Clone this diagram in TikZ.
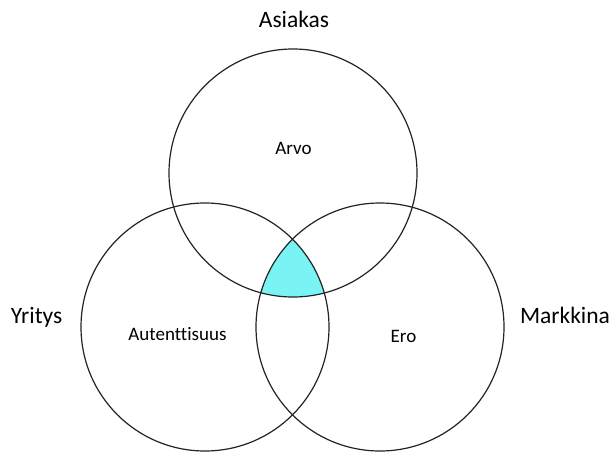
\documentclass[tikz,border=0pt]{standalone}
\usepackage{fontspec}
\setmainfont[Ligatures=NoCommon]{Carlito}
\definecolor{venncyan}{RGB}{122,243,245}
\definecolor{vennline}{RGB}{35,35,35}
\begin{document}
\begin{tikzpicture}[x=1pt,y=-1pt,
  ring/.style={circle,draw=vennline,line width=1.2pt,minimum size=248pt,inner sep=0pt},
  outerlabel/.style={font=\fontsize{23.5}{28}\selectfont,anchor=base,inner sep=0pt},
  innerlabel/.style={font=\fontsize{19}{23}\selectfont,anchor=base,inner sep=0pt}]
\useasboundingbox (0,0) rectangle (610,452);
\begin{scope}
  \clip (293,173) circle[radius=124];
  \clip (205,327) circle[radius=124];
  \fill[venncyan] (380,327) circle[radius=124];
\end{scope}
\node[ring] (top) at (293,173) {};
\node[ring] (left) at (205,327) {};
\node[ring] (right) at (380,327) {};
\node[outerlabel] (asiakas) at (294,28) {Asiakas};
\node[outerlabel] (yritys) at (36.5,323) {Yritys};
\node[outerlabel] (markkina) at (565,323) {Markkina};
\node[innerlabel] (arvo) at (293.5,154) {Arvo};
\node[innerlabel] (autenttisuus) at (177.5,340) {Autenttisuus};
\node[innerlabel] (ero) at (403.5,342) {Ero};
\end{tikzpicture}
\end{document}
